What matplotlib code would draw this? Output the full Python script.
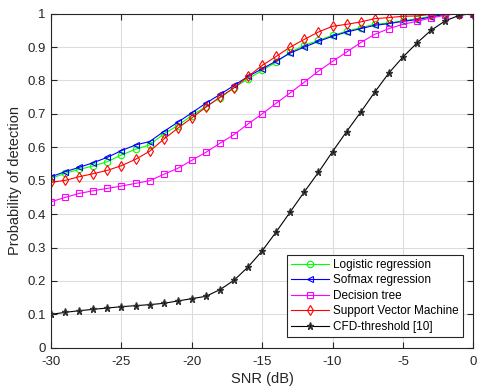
import matplotlib
matplotlib.use('Agg')
from matplotlib import pyplot as plt
import numpy as np

plt.rcParams['font.family'] = ['Liberation Sans', 'DejaVu Sans']
plt.rcParams['axes.unicode_minus'] = False

snr = list(range(-30, 1))

logistic = [0.507, 0.522, 0.534, 0.544, 0.557, 0.577, 0.594, 0.607, 0.64, 0.665,
            0.695, 0.722, 0.748, 0.778, 0.805, 0.83, 0.855, 0.885, 0.905, 0.92,
            0.935, 0.947, 0.958, 0.968, 0.972, 0.978, 0.985, 0.992, 0.998, 1.0, 1.0]
softmax = [0.512, 0.527, 0.54, 0.554, 0.57, 0.59, 0.607, 0.617, 0.647, 0.675,
           0.703, 0.732, 0.758, 0.785, 0.812, 0.835, 0.858, 0.882, 0.90, 0.917,
           0.932, 0.945, 0.955, 0.965, 0.97, 0.977, 0.982, 0.99, 0.998, 1.0, 1.0]
dtree = [0.437, 0.45, 0.462, 0.47, 0.477, 0.484, 0.492, 0.5, 0.519, 0.537,
         0.561, 0.585, 0.612, 0.638, 0.67, 0.70, 0.732, 0.763, 0.795, 0.828,
         0.857, 0.885, 0.913, 0.938, 0.955, 0.968, 0.977, 0.987, 0.995, 1.0, 1.0]
svm = [0.495, 0.501, 0.512, 0.521, 0.531, 0.545, 0.564, 0.588, 0.624, 0.657,
       0.688, 0.72, 0.75, 0.778, 0.812, 0.845, 0.872, 0.90, 0.923, 0.945,
       0.962, 0.968, 0.975, 0.985, 0.988, 0.992, 0.993, 0.998, 1.0, 1.0, 1.0]
cfd = [0.1, 0.106, 0.111, 0.115, 0.119, 0.123, 0.126, 0.129, 0.133, 0.14,
       0.147, 0.154, 0.174, 0.202, 0.242, 0.29, 0.347, 0.407, 0.467, 0.525,
       0.587, 0.647, 0.705, 0.765, 0.822, 0.87, 0.912, 0.95, 0.978, 0.995, 1.0]

fig = plt.figure(figsize=(4.78, 3.89), dpi=100)
ax = fig.add_axes([0.107, 0.106, 0.883, 0.859])

kw = dict(lw=0.8, ms=4.6, mfc='none', mew=0.8)
ax.plot(snr, logistic, '-o', color='#00ff00', label='Logistic regression', **kw)
ax.plot(snr, softmax, '-<', color='#0000ff', label='Sofmax regression', **kw)
ax.plot(snr, dtree, '-s', color='#ff00ff', label='Decision tree', **kw)
ax.plot(snr, svm, '-d', color='#ff0000', label='Support Vector Machine', **kw)
ax.plot(snr, cfd, '-*', color='black', lw=0.8, ms=5.2, mec='#333333',
        label='CFD-threshold [10]')

ax.set_xlim(-30, 0)
ax.set_ylim(0, 1)
ax.set_xticks(np.arange(-30, 1, 5))
ax.set_yticks(np.arange(0, 1.01, 0.1))
ax.set_yticklabels(['0'] + ['%.1f' % v for v in np.arange(0.1, 0.95, 0.1)] + ['1'])
ax.grid(True, color='#dcdcdc', lw=0.8)
ax.set_axisbelow(True)
ax.tick_params(direction='in', top=True, right=True, labelsize=9.5, length=4,
               colors='#262626')
ax.tick_params(axis='x', pad=6)
ax.tick_params(axis='y', pad=4)
for s in ax.spines.values():
    s.set_color('#262626')
    s.set_linewidth(0.8)
ax.set_xlabel('SNR (dB)', fontsize=10.5, color='#262626', labelpad=3)
ax.set_ylabel('Probability of detection', fontsize=10.5, color='#262626', labelpad=4)

leg = ax.legend(loc='lower right', fontsize=8.5, fancybox=False, framealpha=1,
                edgecolor='#262626', borderaxespad=0.9, handlelength=3.2,
                labelspacing=0.3, borderpad=0.35, handletextpad=0.35)
leg.get_frame().set_linewidth(0.8)

fig.savefig('out.png', dpi=100)
